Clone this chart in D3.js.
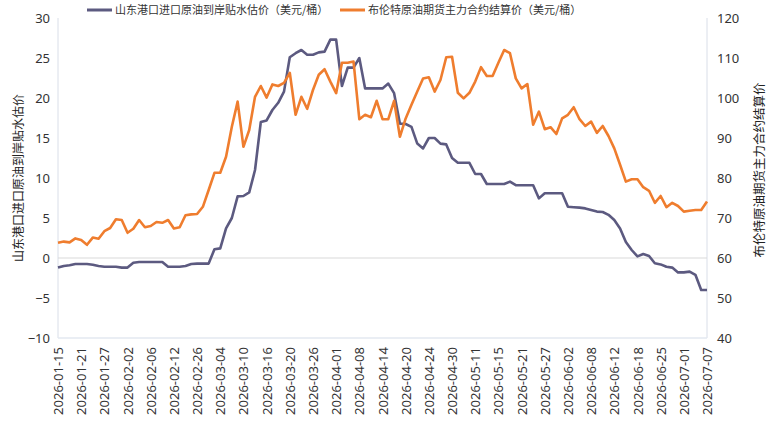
<!DOCTYPE html>
<html>
<head>
<meta charset="utf-8">
<script src="https://cdn.jsdelivr.net/npm/d3@7"></script>
<style>
  body { margin: 0; background: #fff; }
  svg { font-family: "Microsoft YaHei", "Noto Sans CJK SC", "Noto Sans", sans-serif; }
</style>
</head>
<body>
<script>
// trading days shown on the category axis
var dates = [
  "2026-01-15","2026-01-16","2026-01-19","2026-01-20","2026-01-21","2026-01-22","2026-01-23","2026-01-26","2026-01-27","2026-01-28","2026-01-29","2026-01-30",
  "2026-02-02","2026-02-03","2026-02-04","2026-02-05","2026-02-06","2026-02-09","2026-02-10","2026-02-11","2026-02-12","2026-02-13","2026-02-24","2026-02-25","2026-02-26","2026-02-27",
  "2026-03-02","2026-03-03","2026-03-04","2026-03-05","2026-03-06","2026-03-09","2026-03-10","2026-03-11","2026-03-12","2026-03-13","2026-03-16","2026-03-17","2026-03-18","2026-03-19","2026-03-20","2026-03-23","2026-03-24","2026-03-25","2026-03-26","2026-03-27","2026-03-30","2026-03-31",
  "2026-04-01","2026-04-02","2026-04-03","2026-04-07","2026-04-08","2026-04-09","2026-04-10","2026-04-13","2026-04-14","2026-04-15","2026-04-16","2026-04-17","2026-04-20","2026-04-21","2026-04-22","2026-04-23","2026-04-24","2026-04-27","2026-04-28","2026-04-29","2026-04-30",
  "2026-05-06","2026-05-07","2026-05-08","2026-05-11","2026-05-12","2026-05-13","2026-05-14","2026-05-15","2026-05-18","2026-05-19","2026-05-20","2026-05-21","2026-05-22","2026-05-25","2026-05-26","2026-05-27","2026-05-28","2026-05-29",
  "2026-06-01","2026-06-02","2026-06-03","2026-06-04","2026-06-05","2026-06-08","2026-06-09","2026-06-10","2026-06-11","2026-06-12","2026-06-15","2026-06-16","2026-06-17","2026-06-18","2026-06-22","2026-06-23","2026-06-24","2026-06-25","2026-06-26","2026-06-29","2026-06-30",
  "2026-07-01","2026-07-02","2026-07-03","2026-07-06","2026-07-07"
];

// 山东港口进口原油到岸贴水估价 (left axis)
var shandong = [
  -1.2,-1.0,-0.9,-0.75,-0.75,-0.75,-0.85,-1.0,-1.1,-1.1,-1.1,-1.2,
  -1.2,-0.6,-0.5,-0.5,-0.5,-0.5,-0.5,-1.1,-1.1,-1.1,-1.0,-0.75,-0.7,-0.7,
  -0.7,1.1,1.2,3.7,5.0,7.7,7.75,8.2,11.0,17.0,17.2,18.5,19.4,20.8,25.1,25.6,26.0,25.4,25.4,25.7,25.8,27.3,
  27.3,21.5,23.8,23.8,25.0,21.2,21.2,21.2,21.2,21.8,20.6,16.8,16.75,16.4,14.3,13.7,15.0,15.0,14.3,14.2,12.5,
  11.9,11.9,11.9,10.5,10.5,9.25,9.25,9.25,9.25,9.55,9.1,9.1,9.1,9.1,7.45,8.1,8.1,8.1,
  8.1,6.4,6.35,6.3,6.2,6.0,5.8,5.75,5.4,4.75,3.7,2.0,1.0,0.2,0.5,0.25,-0.65,-0.8,-1.1,-1.2,-1.8,
  -1.8,-1.7,-2.1,-4.0,-4.0
];

// 布伦特原油期货主力合约结算价 (right axis)
var brent = [
  63.8,64.1,63.9,64.9,64.5,63.3,65.1,64.8,66.7,67.5,69.7,69.5,
  66.3,67.3,69.5,67.7,68.0,69.0,68.8,69.5,67.4,67.7,70.7,70.9,71.0,72.8,
  77.0,81.3,81.3,85.3,92.8,99.1,87.8,92.0,100.3,103.0,100.1,103.4,103.0,103.8,106.3,95.8,100.3,97.3,102.0,105.8,107.2,104.1,
  101.2,108.8,108.8,109.1,94.7,95.8,95.2,99.3,94.7,94.7,99.3,90.3,94.9,98.3,101.6,104.9,105.2,101.6,104.5,110.2,110.3,
  101.3,99.9,101.3,104.1,107.7,105.5,105.5,108.8,112.0,111.2,104.9,102.4,103.5,93.3,96.6,92.2,92.7,91.0,
  94.9,95.8,97.7,94.7,93.0,94.1,91.3,93.0,90.5,87.4,83.3,79.1,79.7,79.7,77.7,76.8,73.8,75.5,72.7,73.8,73.0,
  71.6,71.8,72.0,72.0,74.1
];

var seriesNames = ["山东港口进口原油到岸贴水估价（美元/桶）", "布伦特原油期货主力合约结算价（美元/桶）"];
var leftTitle = "山东港口进口原油到岸贴水估价";
var rightTitle = "布伦特原油期货主力合约结算价";
var leftTicks = [-10, -5, 0, 5, 10, 15, 20, 25, 30];
var rightTicks = [40, 50, 60, 70, 80, 90, 100, 110, 120];

var W = 770, H = 442;
var plotL = 58, plotR = 707, plotT = 18, plotB = 338;
var colors = ["#5c5a80", "#ef7d2e"];

var svg = d3.select("body").append("svg").attr("width", W).attr("height", H);

var x = d3.scalePoint().domain(dates).range([plotL, plotR]);
var yL = d3.scaleLinear().domain([-10, 30]).range([plotB, plotT]);
var yR = d3.scaleLinear().domain([40, 120]).range([plotB, plotT]);

// frame lines
svg.append("line").attr("x1", plotL).attr("x2", plotL).attr("y1", plotT).attr("y2", plotB)
  .attr("stroke", "#d9dee8").attr("stroke-width", 1);
svg.append("line").attr("x1", plotR).attr("x2", plotR).attr("y1", plotT).attr("y2", plotB)
  .attr("stroke", "#d9dee8").attr("stroke-width", 1);
svg.append("line").attr("x1", plotL).attr("x2", plotR).attr("y1", plotB).attr("y2", plotB)
  .attr("stroke", "#e3e8f0").attr("stroke-width", 1.5);
// zero line
svg.append("line").attr("x1", plotL).attr("x2", plotR).attr("y1", yL(0)).attr("y2", yL(0))
  .attr("stroke", "#d9d9d9").attr("stroke-width", 1);

// axes
var axL = svg.append("g").attr("transform", "translate(" + plotL + ",0)")
  .call(d3.axisLeft(yL).tickValues(leftTicks).tickSize(0).tickPadding(8));
var axR = svg.append("g").attr("transform", "translate(" + plotR + ",0)")
  .call(d3.axisRight(yR).tickValues(rightTicks).tickSize(0).tickPadding(10));
var axX = svg.append("g").attr("transform", "translate(0," + plotB + ")")
  .call(d3.axisBottom(x).tickValues(dates.filter(function (d, i) { return i % 4 === 0; })).tickSize(0));

[axL, axR, axX].forEach(function (a) {
  a.select(".domain").remove();
  a.selectAll("text").attr("fill", "#333").style("font-size", "13px")
    .style("font-family", "'Microsoft YaHei', 'Noto Sans', sans-serif");
});
axX.selectAll("text")
  .attr("transform", "rotate(-90)")
  .attr("x", -9).attr("y", 0).attr("dy", "0.35em")
  .style("text-anchor", "end");

// axis titles
svg.append("text").attr("transform", "translate(19," + ((plotT + plotB) / 2) + ") rotate(-90)")
  .attr("text-anchor", "middle").attr("dy", "0.35em").attr("fill", "#222")
  .style("font-size", "12px").text(leftTitle);
svg.append("text").attr("transform", "translate(760," + ((plotT + plotB) / 2 - 8) + ") rotate(-90)")
  .attr("text-anchor", "middle").attr("dy", "0.35em").attr("fill", "#222")
  .style("font-size", "12.5px").text(rightTitle);

// lines
var lineL = d3.line().x(function (d, i) { return x(dates[i]); }).y(function (d) { return yL(d); });
var lineR = d3.line().x(function (d, i) { return x(dates[i]); }).y(function (d) { return yR(d); });

svg.append("path").datum(shandong).attr("d", lineL).attr("fill", "none")
  .attr("stroke", colors[0]).attr("stroke-width", 2.6).attr("stroke-linejoin", "round");
svg.append("path").datum(brent).attr("d", lineR).attr("fill", "none")
  .attr("stroke", colors[1]).attr("stroke-width", 2.6).attr("stroke-linejoin", "round");

// legend
var legendX = [87, 340];
var legend = svg.selectAll(".legend").data(seriesNames).enter().append("g")
  .attr("class", "legend")
  .attr("transform", function (d, i) { return "translate(" + legendX[i] + ",10)"; });
legend.append("line").attr("x1", 0).attr("x2", 25).attr("y1", 0).attr("y2", 0)
  .attr("stroke", function (d, i) { return colors[i]; }).attr("stroke-width", 3);
legend.append("text").attr("x", 28).attr("dy", "0.35em").attr("fill", "#333")
  .style("font-size", "11px").text(function (d) { return d; });
</script>
</body>
</html>
